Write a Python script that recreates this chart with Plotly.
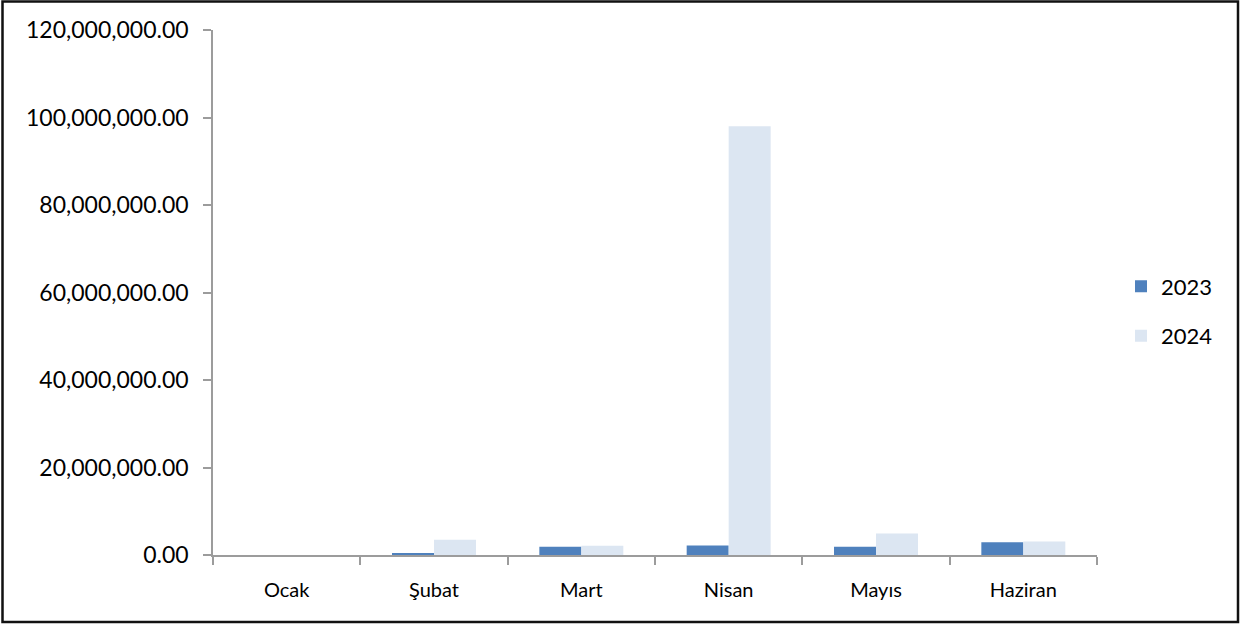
import plotly.graph_objects as go

months = ["Ocak", "Şubat", "Mart", "Nisan", "Mayıs", "Haziran"]
series_names = ["2023", "2024"]
values_2023 = [0, 300000, 1900000, 2200000, 1900000, 2900000]
values_2024 = [0, 3500000, 2100000, 98000000, 4900000, 3100000]
colors = ["#4F81BD", "#DCE6F2"]
y_ticks = [0, 20000000, 40000000, 60000000, 80000000, 100000000, 120000000]

W, H = 1254, 626
L, R, T, B = 213, 157, 30, 71
pw, ph = W - L - R, H - T - B

fig = go.Figure()
for name, vals, col, grp in zip(series_names, [values_2023, values_2024], colors, ["a", "b"]):
    fig.add_trace(go.Bar(x=months, y=vals, name=name, marker_color=col,
                         marker_line_width=0, legendgroup=grp))

def px_x(p):
    return (p - L) / pw

def px_y(p):
    return (H - B - p) / ph

fig.add_shape(type="rect", xref="paper", yref="paper",
              x0=px_x(2.5), x1=px_x(1238), y0=px_y(622), y1=px_y(1.5),
              line=dict(color="#111111", width=2.5), fillcolor="rgba(0,0,0,0)")

fig.update_layout(
    width=W, height=H,
    margin=dict(l=L, r=R, t=T, b=B),
    paper_bgcolor="white", plot_bgcolor="white",
    font=dict(family="Lato, Open Sans, sans-serif", size=21, color="black"),
    barmode="group", bargap=0.43, bargroupgap=0,
    showlegend=True,
    legend=dict(x=(1121 - L) / pw, xanchor="left", y=0.464, yanchor="middle",
                traceorder="grouped", tracegroupgap=18,
                font=dict(size=22), bgcolor="rgba(0,0,0,0)"),
    xaxis=dict(showline=True, linecolor="#9C9C9C", linewidth=1.5,
               ticks="outside", tickson="boundaries", ticklen=8,
               tickcolor="#9C9C9C", tickwidth=1.5, showgrid=False, zeroline=False,
               ticklabelstandoff=16, tickfont=dict(size=20)),
    yaxis=dict(range=[0, 120000000], tickvals=y_ticks, tickformat=",.2f",
               showline=True, linecolor="#9C9C9C", linewidth=1.5,
               ticks="outside", ticklen=8, tickcolor="#9C9C9C", tickwidth=1.5,
               showgrid=False, zeroline=False,
               ticklabelstandoff=10, tickfont=dict(size=23)),
)

fig.write_html("out.html", config={"displayModeBar": False})
with open("out.html", encoding="utf-8") as f:
    html = f.read()
html = html.replace("<body>", '<body style="margin:0;padding:0;overflow:hidden">', 1)
with open("out.html", "w", encoding="utf-8") as f:
    f.write(html)
